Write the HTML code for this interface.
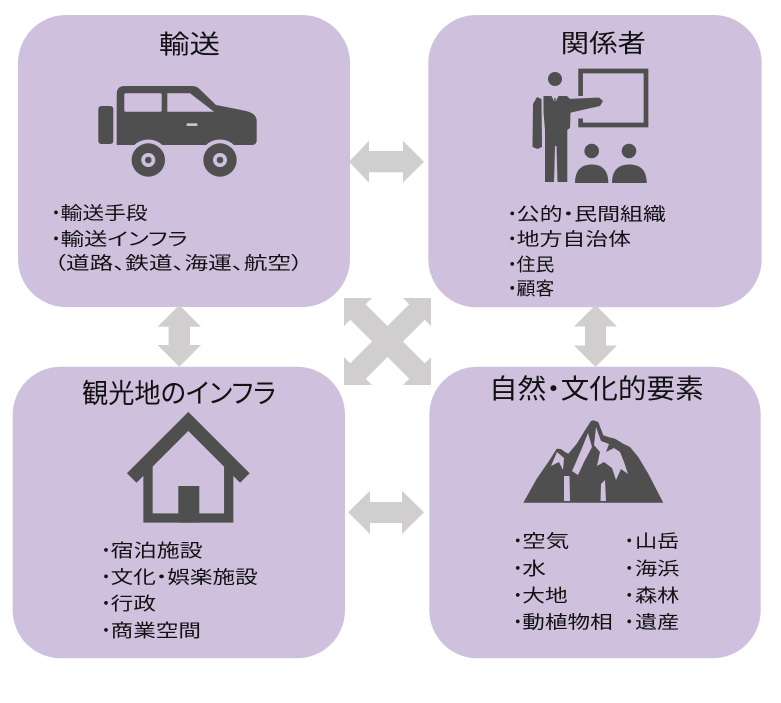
<!DOCTYPE html>
<html>
<head>
<meta charset="utf-8">
<style>
html,body{margin:0;padding:0;background:#fff;}
svg{display:block;}
text{font-family:"Liberation Sans","Noto Sans CJK JP",sans-serif;fill:#111;}
.p{font-feature-settings:"palt";}
</style>
</head>
<body>
<svg width="781" height="703" viewBox="0 0 781 703" xmlns="http://www.w3.org/2000/svg">
<rect width="781" height="703" fill="#fff"/>

<!-- boxes -->
<rect x="18" y="15" width="332" height="292" rx="48" fill="#CFC1DE"/>
<rect x="428.3" y="15" width="333.4" height="292.3" rx="48" fill="#CFC1DE"/>
<rect x="12.7" y="366.7" width="332.3" height="291.6" rx="48" fill="#CFC1DE"/>
<rect x="429.3" y="366.7" width="331.4" height="291.6" rx="48" fill="#CFC1DE"/>

<!-- arrows -->
<g fill="#D0CECE">
<polygon points="349,161.7 369,140.7 369,151 403,151 403,140.7 424,161.7 403,182.7 403,172.3 369,172.3 369,182.7"/>
<polygon points="348,512.3 370,490.7 370,502 402,502 402,490.7 424,512.3 402,534 402,523 370,523 370,534"/>
<polygon points="179.3,305 201,326.7 190,326.7 190,345 201,345 179.3,366.7 157.5,345 168.6,345 168.6,326.7 157.5,326.7"/>
<polygon points="595.5,305 617,326.5 606,326.5 606,345.5 617,345.5 595.5,367 574,345.5 585,345.5 585,326.5 574,326.5"/>
<g transform="translate(344,298)">
<polygon points="0,0 28,0 21.75,6.25 43.5,28 65.25,6.25 59,0 87,0 87,28 80.75,21.75 59,43.5 80.75,65.25 87,59 87,87 59,87 65.25,80.75 43.5,59 21.75,80.75 28,87 0,87 0,59 6.25,65.25 28,43.5 6.25,21.75 0,28"/>
</g>
</g>

<!-- car icon -->
<g>
<rect x="98.3" y="106" width="15" height="38" rx="3" fill="#4F4F4F"/>
<path d="M116.7,145 L116.7,94 Q116.7,86 124.7,86 L192,86 Q196,86 199,88.5 L216,105 Q232,108 246,111 Q256.7,113.5 256.7,121 L256.7,140 Q256.7,145 251.7,145 Z" fill="#4F4F4F"/>
<rect x="124.3" y="93.3" width="37.4" height="18.4" rx="1.5" fill="#CFC1DE"/>
<path d="M167.3,93.3 L190,93.3 L214,111.7 L167.3,111.7 Z" fill="#CFC1DE"/>
<rect x="186.7" y="123.3" width="10.6" height="2.7" fill="#CFC1DE"/>
<circle cx="148.3" cy="160" r="20.5" fill="#CFC1DE"/>
<circle cx="220" cy="160" r="20.5" fill="#CFC1DE"/>
<circle cx="148.3" cy="160" r="16.7" fill="#4F4F4F"/>
<circle cx="220" cy="160" r="16.7" fill="#4F4F4F"/>
<circle cx="148.3" cy="160" r="7" fill="#CFC1DE"/>
<circle cx="220" cy="160" r="7" fill="#CFC1DE"/>
<circle cx="148.3" cy="160" r="3.3" fill="#4F4F4F"/>
<circle cx="220" cy="160" r="3.3" fill="#4F4F4F"/>
</g>

<!-- presenter icon -->
<g fill="#4F4F4F">
<path d="M580.6,96 V71 H646 V125 H580.6 V118.5" fill="none" stroke="#4F4F4F" stroke-width="4.7"/>
<circle cx="555" cy="79" r="7"/>
<polygon points="537,97 541.5,99 542,147 537.5,149 532.5,147 533,104"/>
<polygon points="543.5,96 567,96 571,100 570,128 567.3,130 567.3,182 557.5,182 556.5,146 555,146 554,182 545,182 545,130 543.5,112"/>
<polygon points="567,99 599,97.5 603,101 600,106 569,113"/>
<polygon points="551.5,96 558.5,96 555,103" fill="#CFC1DE"/>
<rect x="554.3" y="98" width="1.4" height="6"/>
<circle cx="591.7" cy="151" r="7.3"/>
<circle cx="629" cy="151" r="7.3"/>
<path d="M575,183 C575,168.5 583,164.5 591.7,164.5 C600.4,164.5 608.3,168.5 608.3,183 Z"/>
<path d="M612,183 C612,168.5 620,164.5 629.3,164.5 C638.6,164.5 646.7,168.5 646.7,183 Z"/>
</g>

<!-- house icon -->
<g>
<polyline points="131.7,478 188.3,421.4 244.9,478" fill="none" stroke="#4F4F4F" stroke-width="13.5" stroke-linejoin="miter"/>
<polyline points="148,458 148,518 228.7,518 228.7,458" fill="none" stroke="#4F4F4F" stroke-width="9.3"/>
<rect x="178.3" y="486" width="21" height="36.7" fill="#4F4F4F"/>
</g>

<!-- mountain icon -->
<g>
<polygon fill="#4F4F4F" points="523.3,502.7 536.7,478.7 548.3,462 556.7,448.7 561,449 565,452 568.3,453.7 576.7,443.7 585,430.3 591,421 593.3,420.3 598.3,422 603.3,435.3 608.3,437 615,438.7 623.3,443.7 630,447 638.3,457 648.3,473.7 663.3,502.7"/>
<g fill="#CFC1DE">
<polygon points="596,427 601,441 609,444 606,452 614,448 620,452 624,462 628,474 621,469 616,480 612,468 604,462 597,466 600,452 594,445"/>
<polygon points="588,433 582,448 576,462 572,471 578,475 584,462 592,447"/>
<polygon points="557,452 551,466 559,462 563,470 564,458"/>
<polygon points="564,476 569.5,476 570,501 564,501"/>
<polygon points="601,484 605,480 606,501 600.5,501"/>
</g>
</g>

<!-- titles -->
<text x="159" y="53.5" font-size="26" textLength="61" lengthAdjust="spacingAndGlyphs">輸送</text>
<text x="560.7" y="52" font-size="25" textLength="85.3" lengthAdjust="spacingAndGlyphs">関係者</text>
<text class="p" x="82" y="403" font-size="27" textLength="194" lengthAdjust="spacingAndGlyphs">観光地のインフラ</text>
<text class="p" x="489" y="398.5" font-size="27" textLength="214.7" lengthAdjust="spacingAndGlyphs">自然・文化的要素</text>

<!-- top-left bullets -->
<g font-size="18">
<text x="56" y="219.3" text-anchor="middle">・</text>
<text x="60.7" y="219.3" textLength="87" lengthAdjust="spacingAndGlyphs">輸送手段</text>
<text x="56" y="245.3" text-anchor="middle">・</text>
<text class="p" x="60.7" y="245.3" textLength="127" lengthAdjust="spacingAndGlyphs">輸送インフラ</text>
<text class="p" x="54" y="269.5" textLength="249" lengthAdjust="spacingAndGlyphs">（道路、鉄道、海運、航空）</text>
</g>

<!-- top-right bullets -->
<g font-size="18">
<text x="512.3" y="220.5" text-anchor="middle">・</text>
<text class="p" x="516.7" y="220.5" textLength="149.3" lengthAdjust="spacingAndGlyphs">公的・民間組織</text>
<text x="512.3" y="245.3" text-anchor="middle">・</text>
<text x="516.7" y="245.3" textLength="114.3" lengthAdjust="spacingAndGlyphs">地方自治体</text>
<text x="512.3" y="270.8" text-anchor="middle">・</text>
<text x="516.7" y="270.8" textLength="37.6" lengthAdjust="spacingAndGlyphs">住民</text>
<text x="512.3" y="294.8" text-anchor="middle">・</text>
<text x="516.7" y="294.8" textLength="37.6" lengthAdjust="spacingAndGlyphs">顧客</text>
</g>

<!-- bottom-left bullets -->
<g font-size="18">
<text x="106" y="556.8" text-anchor="middle">・</text>
<text x="110.7" y="556.8" textLength="92" lengthAdjust="spacingAndGlyphs">宿泊施設</text>
<text x="106" y="583.3" text-anchor="middle">・</text>
<text class="p" x="110.7" y="583.3" textLength="147" lengthAdjust="spacingAndGlyphs">文化・娯楽施設</text>
<text x="106" y="609.8" text-anchor="middle">・</text>
<text x="110.7" y="609.8" textLength="45.3" lengthAdjust="spacingAndGlyphs">行政</text>
<text x="106" y="636.8" text-anchor="middle">・</text>
<text x="110.7" y="636.8" textLength="90.3" lengthAdjust="spacingAndGlyphs">商業空間</text>
</g>

<!-- bottom-right bullets -->
<g font-size="18">
<text x="517.7" y="547.3" text-anchor="middle">・</text>
<text x="522.3" y="547.3" textLength="47" lengthAdjust="spacingAndGlyphs">空気</text>
<text x="517.7" y="574.8" text-anchor="middle">・</text>
<text x="522.3" y="574.8" textLength="23.7" lengthAdjust="spacingAndGlyphs">水</text>
<text x="517.7" y="601.8" text-anchor="middle">・</text>
<text x="522.3" y="601.8" textLength="45.4" lengthAdjust="spacingAndGlyphs">大地</text>
<text x="517.7" y="628.3" text-anchor="middle">・</text>
<text x="522.3" y="628.3" textLength="90.4" lengthAdjust="spacingAndGlyphs">動植物相</text>

<text x="629.3" y="547.3" text-anchor="middle">・</text>
<text x="635" y="547.3" textLength="44.3" lengthAdjust="spacingAndGlyphs">山岳</text>
<text x="629.3" y="574.8" text-anchor="middle">・</text>
<text x="635" y="574.8" textLength="44.3" lengthAdjust="spacingAndGlyphs">海浜</text>
<text x="629.3" y="601.8" text-anchor="middle">・</text>
<text x="635" y="601.8" textLength="44.3" lengthAdjust="spacingAndGlyphs">森林</text>
<text x="629.3" y="628.3" text-anchor="middle">・</text>
<text x="635" y="628.3" textLength="44.3" lengthAdjust="spacingAndGlyphs">遺産</text>
</g>
</svg>
</body>
</html>
